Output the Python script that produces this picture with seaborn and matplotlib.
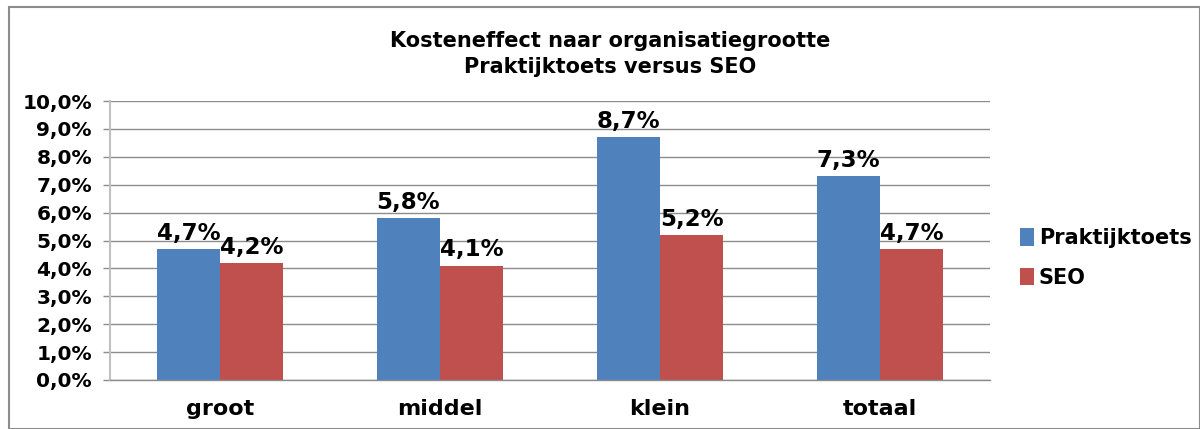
import numpy as np
import pandas as pd
import matplotlib
matplotlib.use('Agg')
import matplotlib.pyplot as plt
from matplotlib.patches import Rectangle
import seaborn as sns

# data
categories = ['groot', 'middel', 'klein', 'totaal']
praktijktoets = [4.7, 5.8, 8.7, 7.3]
seo = [4.2, 4.1, 5.2, 4.7]
series_names = ['Praktijktoets', 'SEO']

df = pd.DataFrame({
    'categorie': categories * 2,
    'waarde': praktijktoets + seo,
    'reeks': [series_names[0]] * 4 + [series_names[1]] * 4,
})

sns.set_style('white')
plt.rcParams['font.family'] = ['DejaVu Sans']
plt.rcParams['font.weight'] = 'bold'
plt.rcParams['text.color'] = 'black'

grid_col = '#8c8c8c'
colors = ['#4F81BD', '#C0504D']

fig = plt.figure(figsize=(12, 4.29), dpi=100, facecolor='w')
ax = fig.add_axes([110/1200, 1 - 380/429, 880/1200, 279/429])

sns.barplot(data=df, x='categorie', y='waarde', hue='reeks', palette=colors,
            width=0.573, saturation=1, ax=ax, legend=True, gap=0, linewidth=0)

for cont in ax.containers:
    ax.bar_label(cont, labels=[f'{v:.1f}%'.replace('.', ',') for v in cont.datavalues],
                 padding=3, fontsize=16.5, fontweight='bold', color='black')

ax.set_ylim(0, 10)
ax.set_xlim(-0.5, 3.5)
ax.set_yticks(np.arange(0, 10.01, 1))
ax.set_yticklabels([f'{v:.1f}%'.replace('.', ',') for v in np.arange(0, 10.01, 1)],
                   fontsize=14.5, fontweight='bold')
ax.set_xticklabels(categories, fontsize=16, fontweight='bold')
ax.set_xlabel('')
ax.set_ylabel('')
ax.yaxis.grid(True, color=grid_col, linewidth=1)
ax.set_axisbelow(True)

ax.set_xticks([-0.5, 0.5, 1.5, 2.5, 3.5], minor=True)
ax.tick_params(axis='x', which='major', length=0, pad=14, labelcolor='black')
ax.tick_params(axis='x', which='minor', length=6, color=grid_col, width=1, direction='out')
ax.tick_params(axis='y', length=5, color=grid_col, width=1, direction='out', pad=8, left=True,
               labelcolor='black')

for s in ['top', 'right']:
    ax.spines[s].set_visible(False)
ax.spines['left'].set_color('#c0c0c0')
ax.spines['left'].set_linewidth(1.5)
ax.spines['bottom'].set_color(grid_col)
ax.spines['bottom'].set_linewidth(1)

handles, labels = ax.get_legend_handles_labels()
ax.legend_.remove()
fig.legend(handles, labels, loc='center left', bbox_to_anchor=(1016/1200, 1 - 258/429),
           frameon=False, prop={'weight': 'bold', 'size': 15},
           handlelength=0.65, handleheight=0.9, handletextpad=0.25, labelspacing=0.95,
           borderaxespad=0, borderpad=0.2)

fig.text(610/1200, 1 - 54/429, 'Kosteneffect naar organisatiegrootte\nPraktijktoets versus SEO',
         ha='center', va='center', fontsize=15, fontweight='bold', linespacing=1.35)

fig.patches.append(Rectangle((9/1200, 0), 1 - 9/1200, 1 - 7/429, transform=fig.transFigure,
                             fill=False, edgecolor='#8c8c8c', linewidth=1.5))

fig.savefig('out.png', dpi=100, facecolor='w')
